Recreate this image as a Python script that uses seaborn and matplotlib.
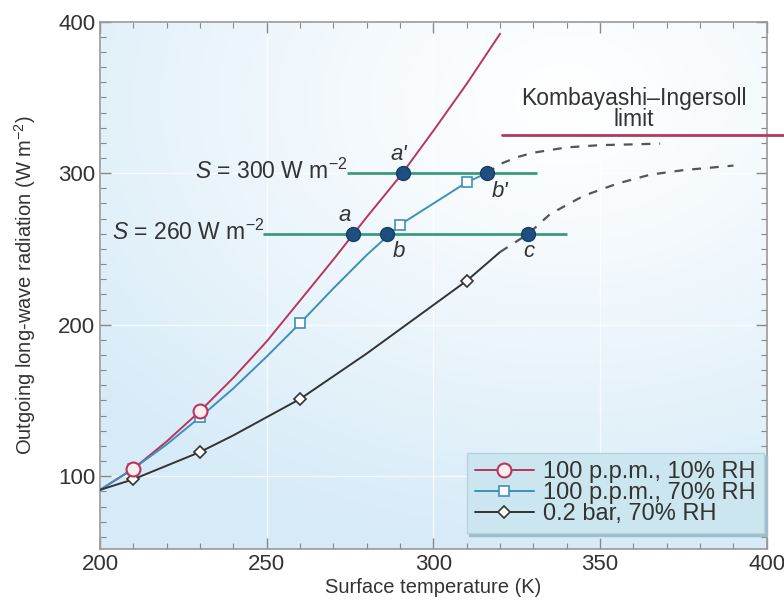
import matplotlib.pyplot as plt
import numpy as np
import seaborn as sns
from matplotlib.lines import Line2D

# ──────────────────────────────────────────────
# data
# ──────────────────────────────────────────────
T_RED = [200, 210, 220, 230, 240, 250, 260, 270, 280, 290, 300, 310, 320]
OLR_RED = [91, 105, 123, 143, 165, 189, 216, 243, 271, 298, 328, 359, 392]
T_RED_MK = [210, 230]
OLR_RED_MK = [105, 143]

T_BLUE = [200, 210, 220, 230, 240, 250, 260, 270, 280, 287, 290, 310, 316]
OLR_BLUE = [91, 105, 121, 139, 158, 179, 201, 224, 246, 260, 266, 294, 300]
T_BLUE_MK = [210, 230, 260, 290, 310]
OLR_BLUE_MK = [105, 139, 201, 266, 294]

T_BLACK = [200, 210, 220, 230, 240, 250, 260, 270, 280, 290, 300, 310, 320]
OLR_BLACK = [91, 98, 107, 116, 127, 139, 151, 166, 181, 197, 213, 229, 248]
T_BLACK_MK = [210, 230, 260, 310]
OLR_BLACK_MK = [98, 116, 151, 229]

# dashed extrapolations
T_DASH_UP = [316, 320, 325, 330, 340, 350, 360, 368]
OLR_DASH_UP = [300, 306, 310.5, 313.5, 317, 318.5, 319, 319.5]
T_DASH_LO = [320, 328.5, 335, 345, 355, 365, 375, 390]
OLR_DASH_LO = [248, 260, 273, 285, 293, 299, 302, 305]

# solar forcing levels and crossing points
S_LEVELS = [300, 260]
S_X0 = [274, 249]
S_X1 = [331, 340]
CROSS_T = [276, 291, 286, 316, 328.5]
CROSS_OLR = [260, 300, 260, 300, 260]
CROSS_LABELS = ["a", "a'", "b", "b'", "c"]
LABEL_T = [273.5, 289.5, 289.5, 320, 328.5]
LABEL_OLR = [272, 312, 248, 288, 248]

KI_LIMIT = 325

SERIES = ["100 p.p.m., 10% RH", "100 p.p.m., 70% RH", "0.2 bar, 70% RH"]
COLORS = ["#b8365e", "#3f8fb8", "#333333"]

# ──────────────────────────────────────────────
# figure
# ──────────────────────────────────────────────
sns.set_style("ticks")
plt.rcParams["font.family"] = ["Liberation Sans", "DejaVu Sans"]
plt.rcParams["mathtext.fontset"] = "custom"
plt.rcParams["mathtext.it"] = "Liberation Sans:italic"
plt.rcParams["mathtext.rm"] = "Liberation Sans"

fig = plt.figure(figsize=(7.84, 6.0), dpi=100)
ax = fig.add_axes([0.1276, 0.085, 0.8505, 0.879])
XLIM, YLIM = (200, 400), (52, 400)

# soft blue background gradient (white towards upper right)
gx, gy = np.meshgrid(np.linspace(0, 1, 200), np.linspace(0, 1, 200))
r = np.clip(np.hypot((gx - 0.70) * 1.0, (gy - 0.85) * 1.1) / 0.95, 0, 1) ** 1.2
c_white = np.array([1.0, 1.0, 1.0])
c_blue = np.array([0.84, 0.92, 0.97])
img = c_white[None, None, :] * (1 - r[..., None]) + c_blue[None, None, :] * r[..., None]
ax.imshow(img, extent=(*XLIM, *YLIM), origin="lower", aspect="auto", zorder=0)

ax.grid(True, which="major", color="white", linewidth=1.0, alpha=0.7)
ax.set_axisbelow(True)

# main curves
sns.lineplot(x=T_RED, y=OLR_RED, ax=ax, color=COLORS[0], linewidth=1.4, zorder=3)
sns.lineplot(x=T_BLUE, y=OLR_BLUE, ax=ax, color=COLORS[1], linewidth=1.4, zorder=3)
sns.lineplot(x=T_BLACK, y=OLR_BLACK, ax=ax, color=COLORS[2], linewidth=1.4, zorder=3)
sns.lineplot(x=T_DASH_UP, y=OLR_DASH_UP, ax=ax, color="#555555", linewidth=1.6,
             linestyle=(0, (4, 4)), zorder=3)
sns.lineplot(x=T_DASH_LO, y=OLR_DASH_LO, ax=ax, color="#555555", linewidth=1.6,
             linestyle=(0, (4, 4)), zorder=3)

# markers
ax.plot(T_BLACK_MK, OLR_BLACK_MK, ls="none", marker="D", ms=6.5, mfc="white",
        mec=COLORS[2], mew=1.2, zorder=4)
ax.plot(T_BLUE_MK, OLR_BLUE_MK, ls="none", marker="s", ms=6.5, mfc="white",
        mec=COLORS[1], mew=1.2, zorder=4)
ax.plot(T_RED_MK, OLR_RED_MK, ls="none", marker="o", ms=10, mfc="#fdeef1",
        mec=COLORS[0], mew=1.5, zorder=5)

# solar forcing levels
for s, x0, x1 in zip(S_LEVELS, S_X0, S_X1):
    ax.hlines(s, x0, x1, color="#3a9c7c", linewidth=2.0, zorder=2.5)
    ax.text(x0 + 0.3, s + 1, rf"$S$ = {s} W m$^{{-2}}$", ha="right", va="center",
            fontsize=16.5, color="#333333")

ax.plot(CROSS_T, CROSS_OLR, ls="none", marker="o", ms=10, mfc="#1d4f80",
        mec="#163d63", mew=1.0, zorder=6)
for t, o, lab in zip(LABEL_T, LABEL_OLR, CROSS_LABELS):
    ax.text(t, o, lab, ha="center", va="center", fontsize=16, style="italic",
            color="#333333")

# Kombayashi–Ingersoll limit
ax.plot([320.5, 405.5], [KI_LIMIT, KI_LIMIT], color="#b8365e", linewidth=2.0,
        clip_on=False, zorder=3)
ax.text(360, KI_LIMIT + 3, "Kombayashi\u2013Ingersoll\nlimit", ha="center", va="bottom",
        fontsize=16.5, color="#333333", linespacing=0.9)

# axes styling
ax.set_xlim(*XLIM)
ax.set_ylim(*YLIM)
ax.set_xticks([200, 250, 300, 350, 400])
ax.set_yticks([100, 200, 300, 400])
ax.set_xticks(np.arange(200, 401, 10), minor=True)
ax.set_yticks(np.arange(60, 401, 10), minor=True)
ax.tick_params(which="both", direction="in", top=True, right=True, colors="#888888",
               labelcolor="#333333", labelsize=16)
ax.tick_params(which="major", length=8, width=1)
ax.tick_params(which="minor", length=4, width=0.8)
for sp in ax.spines.values():
    sp.set_color("#999999")
    sp.set_linewidth(1.2)

ax.set_xlabel("Surface temperature (K)", fontsize=14.5, color="#333333", labelpad=2)
ax.set_ylabel(r"Outgoing long-wave radiation (W m$^{-2}$)", fontsize=14.5,
              color="#333333", labelpad=14)

# legend
handles = [
    Line2D([], [], color=COLORS[0], lw=1.4, marker="o", ms=10, mfc="#fdeef1",
           mec=COLORS[0], mew=1.5),
    Line2D([], [], color=COLORS[1], lw=1.4, marker="s", ms=6.5, mfc="white",
           mec=COLORS[1], mew=1.2),
    Line2D([], [], color=COLORS[2], lw=1.4, marker="D", ms=6.5, mfc="white",
           mec=COLORS[2], mew=1.2),
]
leg = ax.legend(handles, SERIES, loc="lower right", bbox_to_anchor=(0.996, 0.03),
                borderaxespad=0, fontsize=17, labelspacing=-0.05, handlelength=2.5,
                handletextpad=0.4, borderpad=0.35, fancybox=False, framealpha=1,
                facecolor="#cce6ef", edgecolor="#b5d2dd",
                shadow={"color": "#9fbccb", "alpha": 1})
for txt in leg.get_texts():
    txt.set_color("#333333")

fig.savefig("out.png", dpi=100)
